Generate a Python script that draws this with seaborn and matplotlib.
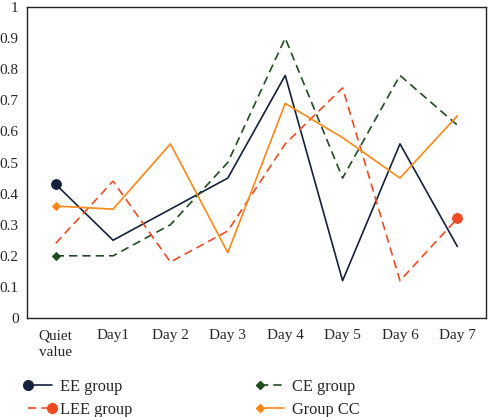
import numpy as np
import matplotlib.pyplot as plt
from matplotlib.lines import Line2D
from matplotlib.legend_handler import HandlerLine2D
import seaborn as sns

sns.set_style("white")
plt.rcParams['font.family'] = ['Liberation Serif', 'DejaVu Serif']

# Data
days = ["Quiet\nvalue", "Day1", "Day 2", "Day 3", "Day 4", "Day 5", "Day 6", "Day 7"]
ee_group = [0.43, 0.25, 0.35, 0.45, 0.78, 0.12, 0.56, 0.23]
ce_group = [0.20, 0.20, 0.30, 0.50, 0.90, 0.45, 0.78, 0.62]
lee_group = [0.24, 0.44, 0.18, 0.28, 0.56, 0.74, 0.12, 0.32]
cc_group = [0.36, 0.35, 0.56, 0.21, 0.69, 0.58, 0.45, 0.65]

# name, values, colour, linestyle, marker, marker index, marker size, side in legend
series = [
    ("EE group", ee_group, "#14213d", "-", "o", 0, 7, "left"),
    ("CE group", ce_group, "#1f4d1f", (0, (5, 3)), "D", 0, 4.5, "left"),
    ("LEE group", lee_group, "#f04a23", (0, (5, 3)), "o", 7, 7, "right"),
    ("Group CC", cc_group, "#ff8717", "-", "D", 0, 4.5, "left"),
]


class EndMarker(HandlerLine2D):
    # legend key with the marker at one end of the line, like the original
    def __init__(self, side, **kw):
        super().__init__(**kw)
        self.side = side

    def create_artists(self, legend, orig_handle, xdescent, ydescent,
                       width, height, fontsize, trans):
        y = (height - ydescent) / 2
        x0, x1 = -xdescent, -xdescent + width
        line = Line2D([x0, x1], [y, y])
        self.update_prop(line, orig_handle, legend)
        line.set_marker("")
        xm = x0 if self.side == "left" else x1
        mk = Line2D([xm], [y])
        self.update_prop(mk, orig_handle, legend)
        mk.set_linestyle("None")
        line.set_transform(trans)
        mk.set_transform(trans)
        return [line, mk]


fig = plt.figure(figsize=(4.88, 4.17), dpi=100)
ax = fig.add_axes([0.0553, 0.2374, 0.9407, 0.7458])

x = np.arange(len(days))
handles = []
handler_map = {}
for name, vals, col, ls, mk, idx, ms, side in series:
    sns.lineplot(x=x, y=vals, ax=ax, color=col, linestyle=ls, linewidth=1.2,
                 marker=mk, markevery=[idx], markersize=ms,
                 markeredgecolor=col, markerfacecolor=col)
    h = Line2D([], [], color=col, linestyle=ls, linewidth=1.2, marker=mk,
               markersize=ms, markeredgecolor=col, markerfacecolor=col)
    handles.append(h)
    handler_map[h] = EndMarker(side)

ax.set_xlim(-0.5, len(days) - 0.5)
ax.set_ylim(0, 1)
ax.set_xticks(x)
ax.set_xticklabels(days, fontsize=11)
for lab in ax.get_xticklabels():
    lab.set_multialignment("left")
    lab.set_linespacing(1.4)
ax.set_xticks(np.arange(-0.5, len(days), 1), minor=True)
ax.tick_params(axis="x", which="major", length=0, pad=8)
ax.tick_params(axis="x", which="minor", length=4, direction="in", width=0.8)
yt = np.round(np.arange(0, 1.01, 0.1), 1)
ax.set_yticks(yt)
ax.set_yticklabels([f"{v:g}" for v in yt], fontsize=11)
ax.tick_params(axis="y", length=0, pad=6)
for s in ax.spines.values():
    s.set_color("#222222")
    s.set_linewidth(1.0)

# legend in reading order: EE, CE / LEE, CC
order = [0, 2, 1, 3]
fig.legend([handles[i] for i in order], [series[i][0] for i in order],
           handler_map=handler_map, ncol=2, loc="upper left",
           bbox_to_anchor=(0.0574, 0.091), frameon=False, fontsize=11.8,
           handlelength=1.45, handletextpad=0.5, columnspacing=7.8,
           labelspacing=0.4, borderaxespad=0, borderpad=0)

fig.savefig("out.png", dpi=100)
